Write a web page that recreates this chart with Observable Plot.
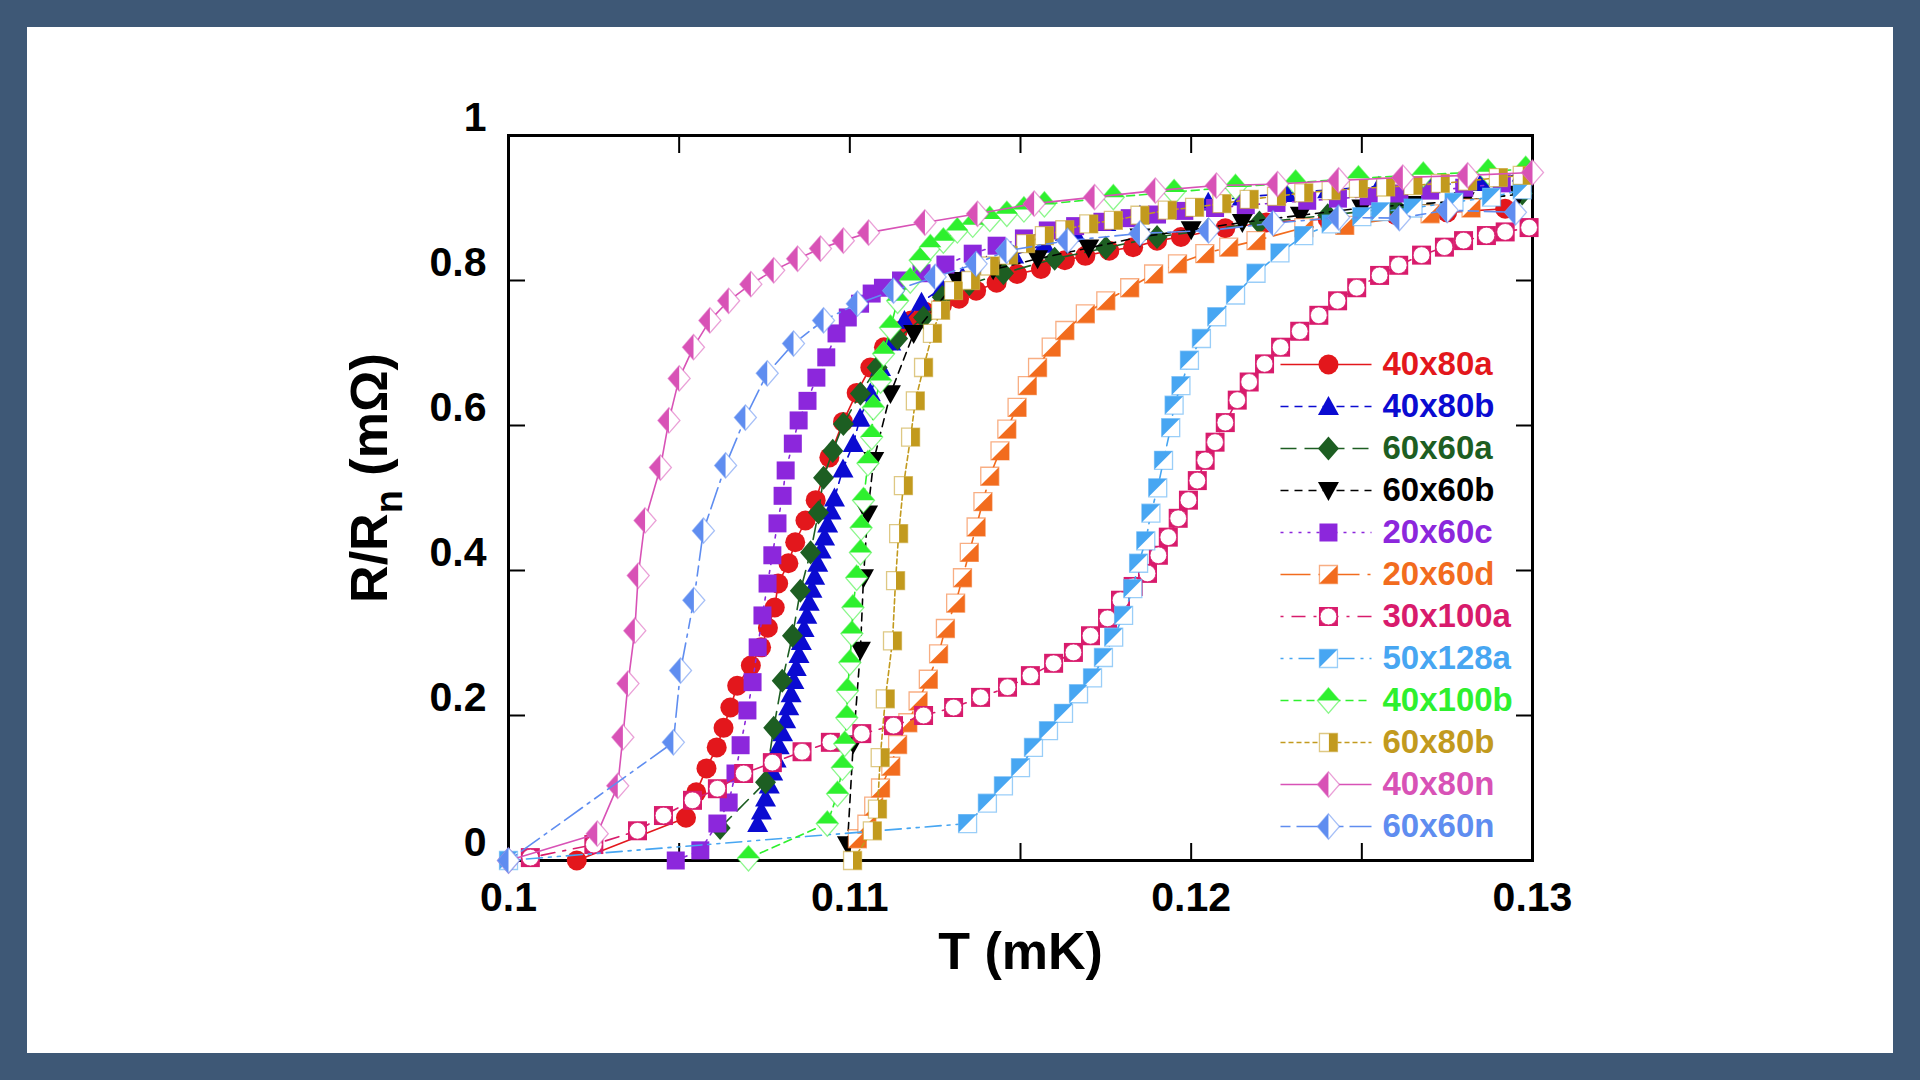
<!DOCTYPE html>
<html>
<head>
<meta charset="utf-8">
<script src="https://cdn.jsdelivr.net/npm/d3@7"></script>
<script src="https://cdn.jsdelivr.net/npm/@observablehq/plot@0.6"></script>
<style>
  html, body { margin: 0; padding: 0; }
  body { width: 1920px; height: 1080px; background: #3e5876; overflow: hidden; font-family: "Liberation Sans", Arial, sans-serif; }
  #panel { position: absolute; left: 27px; top: 27px; width: 1866px; height: 1026px; background: #ffffff; }
  #chart { position: absolute; left: 0; top: 0; }
  #legend { position: absolute; left: 1243px; top: 303px; }
</style>
</head>
<body>
<div id="panel"><div id="chart"></div><div id="legend"></div></div>
<script>
// Resistance transitions R/Rn versus temperature, one [T, R] list per sample.
const s40x80a = [[0.1020,0.000],[0.1052,0.059],[0.1055,0.094],[0.1058,0.127],[0.1061,0.156],[0.1063,0.183],[0.1065,0.211],[0.1067,0.241],[0.1071,0.269],[0.1074,0.294],[0.1076,0.321],[0.1078,0.349],[0.1079,0.382],[0.1082,0.410],[0.1084,0.439],[0.1087,0.469],[0.1090,0.497],[0.1094,0.556],[0.1098,0.605],[0.1102,0.645],[0.1106,0.680],[0.1110,0.708],[0.1114,0.730],[0.1118,0.745],[0.1122,0.757],[0.1127,0.766],[0.1132,0.775],[0.1137,0.786],[0.1143,0.797],[0.1149,0.809],[0.1156,0.816],[0.1163,0.828],[0.1169,0.834],[0.1176,0.841],[0.1183,0.846],[0.1190,0.855],[0.1197,0.860],[0.1210,0.872],[0.1222,0.880],[0.1240,0.885],[0.1260,0.890],[0.1275,0.894],[0.1292,0.899]];
const s40x80b = [[0.1073,0.051],[0.10741,0.068],[0.10753,0.086],[0.10764,0.104],[0.10774,0.122],[0.10784,0.140],[0.10793,0.158],[0.10803,0.176],[0.10812,0.194],[0.10821,0.212],[0.10828,0.230],[0.10836,0.248],[0.10843,0.266],[0.10851,0.284],[0.10858,0.302],[0.10866,0.320],[0.10874,0.338],[0.10881,0.356],[0.10889,0.374],[0.10897,0.392],[0.10906,0.410],[0.10916,0.428],[0.10926,0.446],[0.10935,0.464],[0.10945,0.482],[0.10955,0.500],[0.1098,0.540],[0.1101,0.575],[0.1103,0.610],[0.1106,0.645],[0.1109,0.680],[0.1112,0.715],[0.1116,0.745],[0.1121,0.770],[0.1127,0.790],[0.1133,0.805],[0.1140,0.820],[0.1148,0.835],[0.1157,0.850],[0.1166,0.865],[0.1175,0.880],[0.1185,0.890],[0.1195,0.900],[0.1205,0.908],[0.1215,0.915],[0.1228,0.920],[0.1240,0.925],[0.1255,0.930],[0.1270,0.932],[0.1285,0.935],[0.1297,0.948]];
const s60x60a = [[0.1062,0.045],[0.10753,0.108],[0.10777,0.183],[0.10802,0.248],[0.10832,0.310],[0.10855,0.372],[0.10885,0.425],[0.10908,0.480],[0.10923,0.528],[0.10950,0.565],[0.10981,0.602],[0.11031,0.644],[0.1108,0.680],[0.1114,0.720],[0.11216,0.749],[0.11271,0.777],[0.1135,0.795],[0.1145,0.810],[0.1160,0.830],[0.1175,0.845],[0.1190,0.860],[0.1205,0.870],[0.1220,0.880],[0.1240,0.890],[0.1260,0.900],[0.1280,0.910],[0.1297,0.920]];
const s60x60b = [[0.10993,0.022],[0.1101,0.161],[0.11031,0.290],[0.1104,0.390],[0.11052,0.478],[0.1107,0.552],[0.11119,0.644],[0.11187,0.727],[0.11315,0.800],[0.1142,0.815],[0.1155,0.830],[0.1170,0.845],[0.1185,0.860],[0.1200,0.870],[0.1215,0.880],[0.1232,0.890],[0.1250,0.900],[0.1265,0.905],[0.1280,0.910],[0.1296,0.919]];
const s20x60c = [[0.1049,0.000],[0.10562,0.014],[0.10612,0.051],[0.10645,0.080],[0.10665,0.120],[0.1068,0.159],[0.1070,0.207],[0.10715,0.246],[0.1073,0.294],[0.10744,0.338],[0.10759,0.382],[0.10773,0.421],[0.10788,0.465],[0.10803,0.503],[0.10812,0.538],[0.10833,0.575],[0.1085,0.607],[0.10876,0.634],[0.10902,0.666],[0.10931,0.694],[0.10961,0.727],[0.10994,0.749],[0.1103,0.768],[0.11064,0.782],[0.11097,0.790],[0.1115,0.800],[0.1121,0.810],[0.1128,0.822],[0.1136,0.837],[0.1143,0.848],[0.1151,0.858],[0.1158,0.869],[0.1166,0.875],[0.1174,0.881],[0.1182,0.886],[0.1190,0.891],[0.1198,0.896],[0.1207,0.900],[0.1216,0.904],[0.1225,0.907],[0.1234,0.910],[0.1243,0.913],[0.1252,0.916],[0.1261,0.920],[0.1270,0.924],[0.1280,0.928],[0.1291,0.934]];
const s20x60d = [[0.11022,0.030],[0.1105,0.050],[0.1107,0.075],[0.1109,0.100],[0.1112,0.130],[0.1114,0.160],[0.1117,0.190],[0.1120,0.220],[0.1123,0.250],[0.1126,0.285],[0.1128,0.320],[0.1131,0.355],[0.1133,0.390],[0.1135,0.425],[0.1137,0.460],[0.1139,0.495],[0.1141,0.530],[0.1144,0.565],[0.1146,0.595],[0.1149,0.625],[0.1152,0.655],[0.1155,0.680],[0.1159,0.708],[0.1163,0.731],[0.1169,0.754],[0.1175,0.772],[0.1182,0.790],[0.1189,0.809],[0.1196,0.823],[0.1204,0.837],[0.1211,0.846],[0.1219,0.855],[0.1233,0.873],[0.1245,0.876],[0.1270,0.892],[0.1282,0.900]];
const s30x100a = [[0.10064,0.004],[0.1025,0.022],[0.10378,0.041],[0.10454,0.062],[0.10539,0.083],[0.10612,0.099],[0.10689,0.120],[0.10773,0.135],[0.1086,0.150],[0.10943,0.163],[0.11035,0.175],[0.11128,0.186],[0.11216,0.200],[0.11304,0.211],[0.11383,0.225],[0.11462,0.239],[0.11529,0.255],[0.11597,0.272],[0.11655,0.287],[0.11705,0.310],[0.11755,0.334],[0.11793,0.359],[0.1183,0.378],[0.11872,0.396],[0.11904,0.421],[0.11933,0.446],[0.11962,0.472],[0.11992,0.497],[0.12018,0.524],[0.12041,0.552],[0.1207,0.577],[0.1210,0.604],[0.12135,0.635],[0.1217,0.660],[0.12215,0.685],[0.12262,0.708],[0.12318,0.730],[0.12374,0.752],[0.12429,0.772],[0.12485,0.790],[0.12552,0.807],[0.12608,0.821],[0.12675,0.835],[0.12742,0.846],[0.12798,0.855],[0.12865,0.862],[0.1292,0.867],[0.1299,0.873]];
const s50x128a = [[0.1000,0.000],[0.11345,0.051],[0.11403,0.079],[0.1145,0.103],[0.1150,0.128],[0.11538,0.156],[0.11582,0.179],[0.11626,0.203],[0.1167,0.230],[0.11711,0.252],[0.11743,0.280],[0.11773,0.308],[0.11802,0.338],[0.11829,0.375],[0.11846,0.410],[0.11867,0.441],[0.11882,0.479],[0.11902,0.514],[0.11919,0.552],[0.1194,0.597],[0.1195,0.628],[0.1197,0.655],[0.11995,0.690],[0.1203,0.720],[0.12075,0.750],[0.1213,0.780],[0.1219,0.810],[0.1226,0.838],[0.1233,0.862],[0.1241,0.878],[0.1250,0.888],[0.12555,0.895],[0.1265,0.900],[0.1277,0.908],[0.1288,0.915],[0.1297,0.925]];
const s40x100b = [[0.10703,0.003],[0.10934,0.051],[0.10964,0.092],[0.10978,0.128],[0.10985,0.161],[0.10991,0.197],[0.10993,0.234],[0.1100,0.273],[0.11006,0.313],[0.11009,0.349],[0.1102,0.390],[0.11031,0.425],[0.11033,0.459],[0.1104,0.497],[0.11053,0.548],[0.11064,0.584],[0.11069,0.625],[0.1109,0.662],[0.11099,0.699],[0.11119,0.735],[0.1114,0.772],[0.11177,0.800],[0.11206,0.828],[0.11236,0.846],[0.11274,0.855],[0.11315,0.869],[0.1136,0.877],[0.1141,0.885],[0.1146,0.892],[0.1151,0.898],[0.1157,0.905],[0.11772,0.915],[0.1195,0.922],[0.1213,0.929],[0.12306,0.935],[0.1249,0.941],[0.1268,0.946],[0.1287,0.950],[0.1298,0.954]];
const s60x80b = [[0.11008,0.000],[0.11066,0.041],[0.11081,0.071],[0.11089,0.142],[0.11104,0.223],[0.11125,0.303],[0.11134,0.386],[0.11143,0.451],[0.11157,0.517],[0.11178,0.584],[0.11192,0.634],[0.11216,0.680],[0.11242,0.727],[0.11266,0.759],[0.11304,0.786],[0.11354,0.800],[0.1141,0.820],[0.11465,0.835],[0.11515,0.851],[0.1157,0.862],[0.1163,0.870],[0.1170,0.878],[0.11772,0.883],[0.1185,0.890],[0.1193,0.897],[0.1201,0.901],[0.1209,0.906],[0.1217,0.912],[0.1225,0.916],[0.1233,0.921],[0.1241,0.924],[0.1249,0.927],[0.1257,0.929],[0.1265,0.931],[0.1273,0.934],[0.1281,0.937],[0.1290,0.942],[0.1297,0.945]];
const s40x80n = [[0.1000,0.000],[0.1026,0.037],[0.1032,0.103],[0.10335,0.170],[0.1035,0.244],[0.1037,0.317],[0.1038,0.393],[0.1040,0.469],[0.10445,0.542],[0.1047,0.607],[0.1050,0.665],[0.10542,0.708],[0.1059,0.745],[0.10645,0.772],[0.1071,0.795],[0.10777,0.814],[0.10847,0.830],[0.10914,0.844],[0.10981,0.855],[0.11055,0.866],[0.1122,0.880],[0.11374,0.892],[0.1154,0.906],[0.11717,0.915],[0.11895,0.924],[0.12074,0.931],[0.12253,0.933],[0.12432,0.938],[0.1262,0.942],[0.1281,0.945],[0.1300,0.949]];
const s60x60n = [[0.1000,0.000],[0.10483,0.163],[0.10504,0.262],[0.10543,0.359],[0.10571,0.455],[0.10636,0.545],[0.10694,0.611],[0.10758,0.672],[0.10835,0.713],[0.10923,0.745],[0.11022,0.768],[0.11128,0.786],[0.1125,0.805],[0.1137,0.823],[0.11459,0.841],[0.11638,0.855],[0.1185,0.865],[0.12051,0.869],[0.1224,0.879],[0.12432,0.887],[0.1261,0.886],[0.1275,0.897],[0.1295,0.894]];

const seriesNames = ["40x80a", "40x80b", "60x60a", "60x60b", "20x60c", "20x60d", "30x100a", "50x128a", "40x100b", "60x80b", "40x80n", "60x60n"];
const seriesData = [s40x80a, s40x80b, s60x60a, s60x60b, s20x60c, s20x60d, s30x100a, s50x128a, s40x100b, s60x80b, s40x80n, s60x60n];

// Axis ticks and their printed labels
const xTickValues = [0.1, 0.105, 0.11, 0.115, 0.12, 0.125, 0.13];
const xLabelValues = [0.1, 0.11, 0.12, 0.13];
const xTickLabels = ["0.1", "0.11", "0.12", "0.13"];
const yTickValues = [0.2, 0.4, 0.6, 0.8];
const yLabelValues = [0, 0.2, 0.4, 0.6, 0.8, 1];
const yTickLabels = ["0", "0.2", "0.4", "0.6", "0.8", "1"];

// Per-series styling: colour, line dash and marker kind
const styles = {
  "40x80a":  {color: "#e3171c", dash: null,            marker: "circle"},
  "40x80b":  {color: "#0b0bd1", dash: "8,6",           marker: "triUp"},
  "60x60a":  {color: "#1d5e22", dash: "16,8",          marker: "diamond"},
  "60x60b":  {color: "#000000", dash: "8,6",           marker: "triDown"},
  "20x60c":  {color: "#8c27dc", dash: "3,6",           marker: "square"},
  "20x60d":  {color: "#f26c1e", dash: "30,8,3,8",      marker: "squareLR"},
  "30x100a": {color: "#d81b6c", dash: "3,8,14,8",      marker: "ring"},
  "50x128a": {color: "#47a6f2", dash: "3,6,3,6,16,6",  marker: "squareUL"},
  "40x100b": {color: "#2ef02e", dash: "8,5",           marker: "diamondTop"},
  "60x80b":  {color: "#c29a1e", dash: "5,3",           marker: "squareRight"},
  "40x80n":  {color: "#d852b6", dash: null,            marker: "diamondLeft"},
  "60x60n":  {color: "#5f8df0", dash: "10,6,22,6,3,6", marker: "diamondLeft"}
};

// Custom symbol shapes; r is the half-width of the glyph
const sym = (fn) => ({draw(ctx, size) { fn(ctx, Math.sqrt(size / Math.PI)); }});
const poly = (ctx, pts) => { ctx.moveTo(pts[0][0], pts[0][1]); for (const p of pts.slice(1)) ctx.lineTo(p[0], p[1]); ctx.closePath(); };
const DH = 1.15; // diamond height / width ratio
const shapes = {
  circle: sym((c, r) => { c.moveTo(r, 0); c.arc(0, 0, r, 0, 2 * Math.PI); c.closePath(); }),
  square: sym((c, r) => poly(c, [[-r, -r], [r, -r], [r, r], [-r, r]])),
  triUp: sym((c, r) => poly(c, [[0, -r], [r, 0.8 * r], [-r, 0.8 * r]])),
  triDown: sym((c, r) => poly(c, [[0, r], [r, -0.8 * r], [-r, -0.8 * r]])),
  diamond: sym((c, r) => poly(c, [[0, -DH * r], [r, 0], [0, DH * r], [-r, 0]])),
  diamondTop: sym((c, r) => poly(c, [[-r, 0], [0, -DH * r], [r, 0]])),
  diamondLeft: sym((c, r) => poly(c, [[0, -DH * r], [0, DH * r], [-r, 0]])),
  triLowerRight: sym((c, r) => poly(c, [[r, -r], [r, r], [-r, r]])),
  triUpperLeft: sym((c, r) => poly(c, [[-r, -r], [r, -r], [-r, r]])),
  rightHalf: sym((c, r) => poly(c, [[0.05 * r, -r], [r, -r], [r, r], [0.05 * r, r]]))
};

function markerLayers(kind, color) {
  const outline = {fill: "white", stroke: color, strokeWidth: 1.3, strokeOpacity: 0.55};
  switch (kind) {
    case "circle": return [{shape: shapes.circle, r: 10, fill: color}];
    case "triUp": return [{shape: shapes.triUp, r: 10.5, fill: color}];
    case "triDown": return [{shape: shapes.triDown, r: 10.5, fill: color}];
    case "diamond": return [{shape: shapes.diamond, r: 10.5, fill: color}];
    case "square": return [{shape: shapes.square, r: 9, fill: color}];
    case "squareLR": return [{shape: shapes.square, r: 9, ...outline}, {shape: shapes.triLowerRight, r: 9, fill: color}];
    case "squareUL": return [{shape: shapes.square, r: 9, ...outline}, {shape: shapes.triUpperLeft, r: 9, fill: color}];
    case "squareRight": return [{shape: shapes.square, r: 9, ...outline}, {shape: shapes.rightHalf, r: 9, fill: color}];
    case "diamondTop": return [{shape: shapes.diamond, r: 11, ...outline}, {shape: shapes.diamondTop, r: 11, fill: color}];
    case "diamondLeft": return [{shape: shapes.diamond, r: 11, ...outline}, {shape: shapes.diamondLeft, r: 11, fill: color}];
    case "ring": return [{shape: shapes.square, r: 9.5, fill: color}, {shape: shapes.circle, r: 8.4, fill: "white", stroke: color, strokeWidth: 0.8}];
  }
  return [];
}

function dotMarks(data, kind, color, x, y) {
  return markerLayers(kind, color).map((L) => Plot.dot(data, {
    x, y, symbol: L.shape, r: L.r, fill: L.fill,
    stroke: L.stroke || "none", strokeWidth: L.strokeWidth || 0, strokeOpacity: L.strokeOpacity ?? 1
  }));
}

const FONT = '"Liberation Sans", Arial, sans-serif';
const tx = (d) => d[0];
const ty = (d) => d[1];

// Main chart
const seriesMarks = seriesNames.flatMap((name, i) => {
  const s = styles[name];
  const data = seriesData[i];
  return [
    Plot.line(data, {x: tx, y: ty, stroke: s.color, strokeWidth: 1.6, strokeDasharray: s.dash || undefined}),
    ...dotMarks(data, s.marker, s.color, tx, ty)
  ];
});

const chart = Plot.plot({
  width: 1866,
  height: 1026,
  marginLeft: 481,
  marginRight: 361,
  marginTop: 108,
  marginBottom: 193,
  style: {background: "white", fontFamily: FONT, overflow: "visible"},
  x: {domain: [0.1, 0.13], axis: null},
  y: {domain: [0, 1], axis: null},
  marks: [
    Plot.frame({stroke: "black", strokeWidth: 3}),
    Plot.axisX({ticks: xTickValues, anchor: "bottom", tickSize: -17, fill: "none", strokeWidth: 2, label: null}),
    Plot.axisX({ticks: xTickValues, anchor: "top", tickSize: -17, fill: "none", strokeWidth: 2, label: null}),
    Plot.axisY({ticks: yTickValues, anchor: "left", tickSize: -17, fill: "none", strokeWidth: 2, label: null}),
    Plot.axisY({ticks: yTickValues, anchor: "right", tickSize: -17, fill: "none", strokeWidth: 2, label: null}),
    Plot.axisX({ticks: xLabelValues, anchor: "bottom", tickSize: 0, tickPadding: 21, stroke: "none",
      tickFormat: (d) => xTickLabels[xLabelValues.indexOf(d)], fontSize: 41, fontWeight: "bold", fill: "black", label: null}),
    Plot.axisY({ticks: yLabelValues, anchor: "left", tickSize: 0, tickPadding: 22, dy: -18, stroke: "none",
      tickFormat: (d) => yTickLabels[yLabelValues.indexOf(d)], fontSize: 41, fontWeight: "bold", fill: "black", label: null}),
    ...seriesMarks,
    Plot.text(["T (mK)"], {frameAnchor: "bottom", text: (d) => d, dy: 108, fontSize: 52, fontWeight: "bold", fill: "black"}),
    Plot.text(["R/Rn (mΩ)"], {frameAnchor: "left", text: (d) => d, rotate: -90, dx: -138, dy: -20, textAnchor: "middle", fontSize: 52, fontWeight: "bold", fill: "black"})
  ]
});

// Set the subscript in the y-axis title
d3.select(chart).selectAll("text").filter(function () { return this.textContent === "R/Rn (mΩ)"; }).each(function () {
  const t = d3.select(this);
  t.text(null);
  t.append("tspan").text("R/R");
  t.append("tspan").attr("dy", 15).attr("font-size", 38).text("n");
  t.append("tspan").attr("dy", -15).text(" (mΩ)");
});
document.getElementById("chart").appendChild(chart);

// Legend: one row per sample with its line style, marker and name
const legendMarks = seriesNames.flatMap((name) => {
  const s = styles[name];
  return [
    Plot.link([name], {x1: 0, x2: 1, y1: (d) => d, y2: (d) => d, stroke: s.color, strokeWidth: 1.6, strokeDasharray: s.dash || undefined}),
    ...dotMarks([name], s.marker, s.color, () => 0.527, (d) => d),
    Plot.text([name], {x: 1, y: (d) => d, text: (d) => d, dx: 11, textAnchor: "start", fill: s.color, fontSize: 33, fontWeight: "bold"})
  ];
});

const legend = Plot.plot({
  width: 330,
  height: 530,
  margin: 0,
  style: {background: "transparent", fontFamily: FONT, overflow: "visible"},
  x: {domain: [0, 1], range: [10, 101], axis: null},
  y: {type: "point", domain: seriesNames, range: [30, 500], padding: 0, axis: null},
  marks: legendMarks
});
document.getElementById("legend").appendChild(legend);
</script>
</body>
</html>
